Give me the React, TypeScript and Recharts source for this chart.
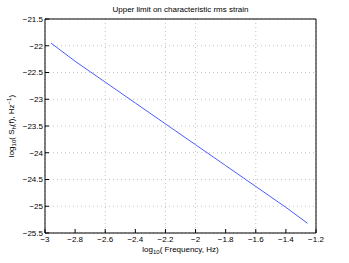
import React from 'react';
import { LineChart, Line, XAxis, YAxis, CartesianGrid } from 'recharts';

const freqLog = [-2.96, -2.8, -2.6, -2.4, -2.2, -2.0, -1.8, -1.6, -1.4, -1.256];
const strainLog = [-21.95, -22.29, -22.68, -23.07, -23.46, -23.85, -24.24, -24.63, -25.02, -25.32];
const xTicks = [-3, -2.8, -2.6, -2.4, -2.2, -2, -1.8, -1.6, -1.4, -1.2];
const yTicks = [-25.5, -25, -24.5, -24, -23.5, -23, -22.5, -22, -21.5];
const title = 'Upper limit on characteristic rms strain';

const data = freqLog.map((x, i) => ({ x, y: strainLog[i] }));

const FONT = '"Liberation Sans", Arial, Helvetica, sans-serif';
const fmt = (v: number) => String(v).replace('-', '\u2212');
const tickStyle = { fontSize: 8, fill: '#000', fontFamily: FONT };

const XLabel = (props: any) => {
  const vb = props.viewBox || {};
  const cx = vb.x + vb.width / 2;
  const y = vb.y + 19;
  return (
    <text x={cx} y={y} textAnchor="middle" fontSize={8} fontFamily={FONT} fill="#000">
      log<tspan fontSize={6} dy={2}>10</tspan>
      <tspan dy={-2}>( Frequency, Hz)</tspan>
    </text>
  );
};

const YLabel = (props: any) => {
  const vb = props.viewBox || {};
  const cy = vb.y + vb.height / 2;
  const x = 14;
  return (
    <text x={x} y={cy} transform={`rotate(-90, ${x}, ${cy})`} textAnchor="middle" fontSize={8} fontFamily={FONT} fill="#000">
      log<tspan fontSize={6} dy={2}>10</tspan>
      <tspan dy={-2}>( S</tspan>
      <tspan fontSize={6} dy={2}>h</tspan>
      <tspan dy={-2}>(f), Hz</tspan>
      <tspan fontSize={6} dy={-3}>{'\u22121'}</tspan>
      <tspan dy={3}>)</tspan>
    </text>
  );
};

export default function App() {
  return (
    <div style={{ position: 'absolute', left: 0, top: 0, width: 349, height: 263, background: '#fff' }}>
      <div
        style={{
          position: 'absolute',
          left: 45,
          width: 271,
          top: 5,
          textAlign: 'center',
          fontFamily: FONT,
          fontSize: 8,
          lineHeight: '10px',
          color: '#000',
        }}
      >
        {title}
      </div>
      <LineChart width={349} height={263} data={data} margin={{ top: 18, right: 32, left: 0, bottom: 0 }}>
        <CartesianGrid xAxisId="b" yAxisId="l" stroke="#b5b5b5" strokeDasharray="1 3" strokeWidth={0.8} />
        <XAxis
          xAxisId="b"
          dataKey="x"
          type="number"
          domain={[-3, -1.2]}
          ticks={xTicks}
          allowDataOverflow
          orientation="bottom"
          height={30}
          tickSize={-4}
          tickMargin={7}
          tickFormatter={fmt}
          tick={tickStyle}
          stroke="#000"
          axisLine={{ stroke: '#000' }}
          tickLine={{ stroke: '#000' }}
          label={<XLabel />}
        />
        <XAxis
          xAxisId="t"
          dataKey="x"
          type="number"
          domain={[-3, -1.2]}
          ticks={xTicks}
          allowDataOverflow
          orientation="top"
          height={1}
          tickSize={-4}
          tick={false}
          stroke="#000"
          axisLine={{ stroke: '#000' }}
          tickLine={{ stroke: '#000' }}
        />
        <YAxis
          yAxisId="l"
          type="number"
          domain={[-25.5, -21.5]}
          ticks={yTicks}
          allowDataOverflow
          orientation="left"
          width={45}
          tickSize={-4}
          tickMargin={6}
          tickFormatter={fmt}
          tick={tickStyle}
          stroke="#000"
          axisLine={{ stroke: '#000' }}
          tickLine={{ stroke: '#000' }}
          label={<YLabel />}
        />
        <YAxis
          yAxisId="r"
          type="number"
          domain={[-25.5, -21.5]}
          ticks={yTicks}
          allowDataOverflow
          orientation="right"
          width={1}
          tickSize={-4}
          tick={false}
          stroke="#000"
          axisLine={{ stroke: '#000' }}
          tickLine={{ stroke: '#000' }}
        />
        <Line
          xAxisId="t"
          yAxisId="r"
          dataKey="y"
          type="linear"
          stroke="none"
          dot={false}
          activeDot={false}
          isAnimationActive={false}
        />
        <Line
          xAxisId="b"
          yAxisId="l"
          dataKey="y"
          type="linear"
          stroke="#4a5cff"
          strokeWidth={1}
          dot={false}
          isAnimationActive={false}
        />
      </LineChart>
    </div>
  );
}
